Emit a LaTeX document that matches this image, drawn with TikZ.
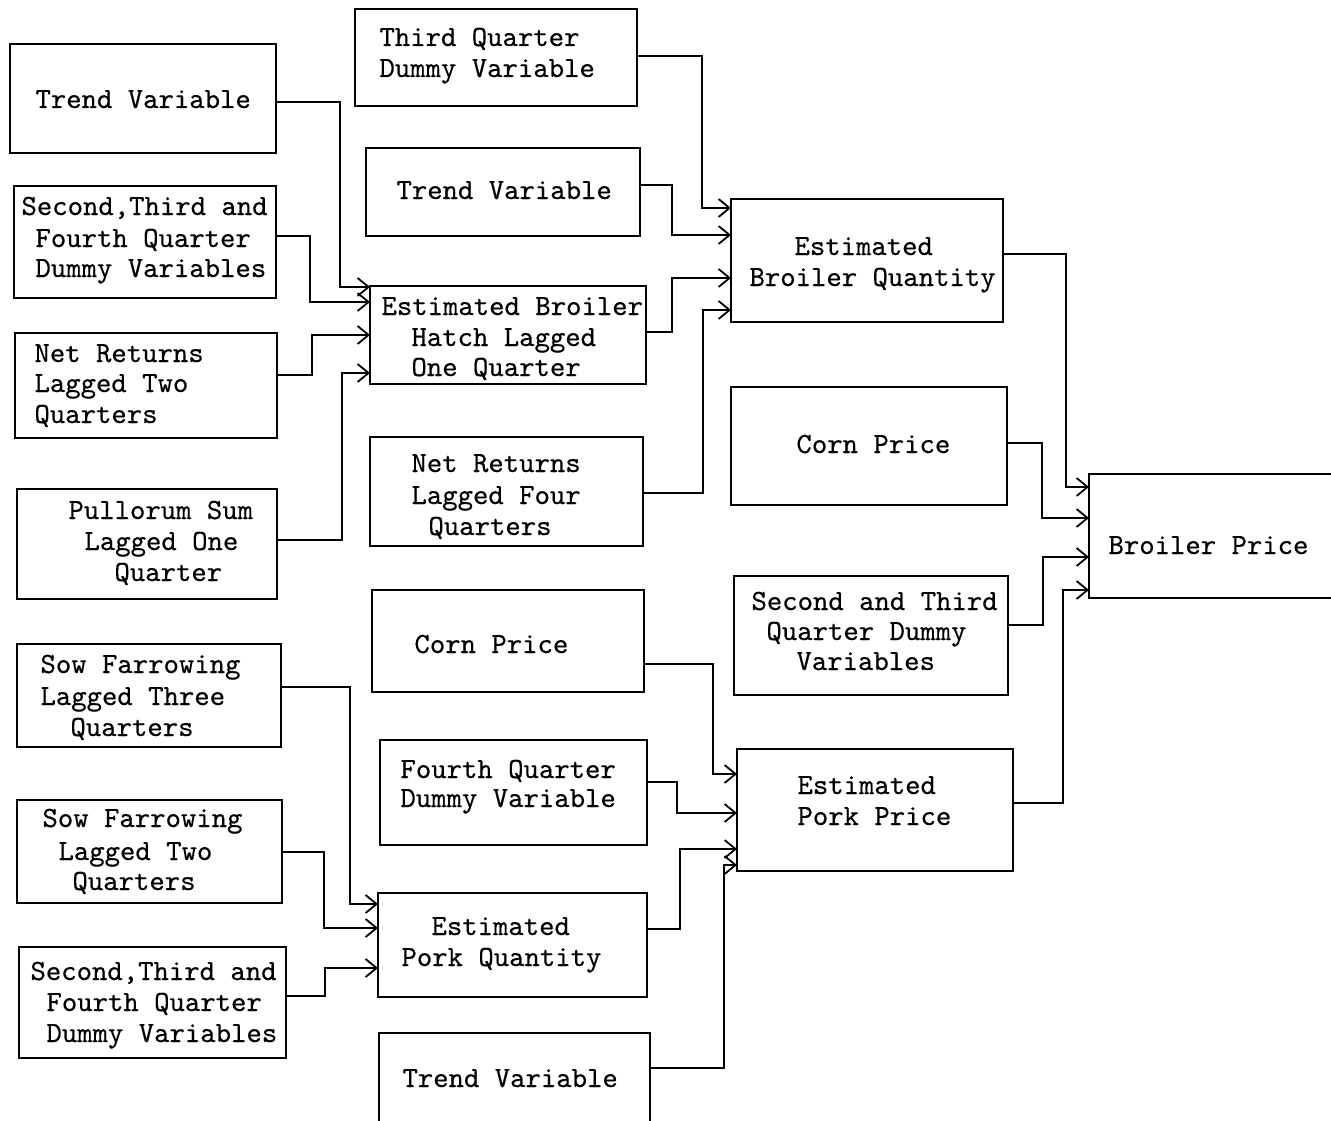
\documentclass[tikz,border=0pt]{standalone}
\usepackage{fontspec}
\newfontfamily\twfont{lmmono10-regular.otf}[FakeBold=0.4]
\usetikzlibrary{arrows.meta}
\begin{document}
\begin{tikzpicture}[x=1pt,y=-1pt,
  box/.style={draw=black, line width=1.6pt, inner sep=0pt, outer sep=0pt, anchor=north west},
  txt/.style={inner sep=0pt, outer sep=0pt, anchor=base west, xshift=-1.5pt,
              font=\fontsize{29.3}{30}\selectfont\twfont},
  conn/.style={draw=black, line width=1.6pt,
               -{Straight Barb[length=11pt,width=18pt,line width=1.8pt]}}]
\useasboundingbox (0,0) rectangle (1331,1121);
\newcommand\bx[5]{\node[box, minimum width={(#4-#2)*1pt}, minimum height={(#5-#3)*1pt}] (#1) at (#2,#3) {};}
\newcommand\tl[4]{\node[txt] (#1) at (#2,#3) {#4};}
% boxes
\bx{b1}{10}{44}{276}{153}
\bx{b2}{14}{186}{276}{298}
\bx{b3}{15}{333}{277}{438}
\bx{b4}{17}{489}{277}{599}
\bx{b5}{17}{644}{281}{747}
\bx{b6}{17}{800}{282}{903}
\bx{b7}{19}{947}{286}{1058}
\bx{b8}{355}{9}{637}{106}
\bx{b9}{366}{148}{640}{236}
\bx{b10}{370}{286}{646}{384}
\bx{b11}{370}{437}{643}{546}
\bx{b12}{372}{590}{644}{692}
\bx{b13}{380}{740}{647}{845}
\bx{b14}{378}{893}{647}{997}
\bx{b15}{379}{1033}{650}{1140}
\bx{b16}{731}{199}{1003}{322}
\bx{b17}{731}{387}{1007}{505}
\bx{b18}{734}{576}{1008}{695}
\bx{b19}{737}{749}{1013}{871}
\bx{b20}{1089}{474}{1350}{598}
% texts
\tl{t1a}{37}{108}{Trend Variable}
\tl{t2a}{23}{215}{Second,Third and}
\tl{t2b}{37}{247}{Fourth Quarter}
\tl{t2c}{37}{277}{Dummy Variables}
\tl{t3a}{36}{362}{Net Returns}
\tl{t3b}{36}{392}{Lagged Two}
\tl{t3c}{36}{423}{Quarters}
\tl{t4a}{70}{519}{Pullorum Sum}
\tl{t4b}{86}{550}{Lagged One}
\tl{t4c}{116}{581}{Quarter}
\tl{t5a}{42}{673}{Sow Farrowing}
\tl{t5b}{42}{705}{Lagged Three}
\tl{t5c}{72}{736}{Quarters}
\tl{t6a}{44}{827}{Sow Farrowing}
\tl{t6b}{60}{860}{Lagged Two}
\tl{t6c}{74}{890}{Quarters}
\tl{t7a}{32}{980}{Second,Third and}
\tl{t7b}{48}{1011}{Fourth Quarter}
\tl{t7c}{48}{1042}{Dummy Variables}
\tl{t8a}{381}{46}{Third Quarter}
\tl{t8b}{381}{77}{Dummy Variable}
\tl{t9a}{398}{199}{Trend Variable}
\tl{t10a}{383}{315}{Estimated Broiler}
\tl{t10b}{413}{346}{Hatch Lagged}
\tl{t10c}{413}{376}{One Quarter}
\tl{t11a}{413}{472}{Net Returns}
\tl{t11b}{413}{504}{Lagged Four}
\tl{t11c}{430}{535}{Quarters}
\tl{t12a}{416}{653}{Corn Price}
\tl{t13a}{402}{778}{Fourth Quarter}
\tl{t13b}{402}{807}{Dummy Variable}
\tl{t14a}{433}{935}{Estimated}
\tl{t14b}{403}{966}{Pork Quantity}
\tl{t15a}{404}{1087}{Trend Variable}
\tl{t16a}{796}{255}{Estimated}
\tl{t16b}{751}{286}{Broiler Quantity}
\tl{t17a}{798}{453}{Corn Price}
\tl{t18a}{753}{610}{Second and Third}
\tl{t18b}{768}{640}{Quarter Dummy}
\tl{t18c}{798}{670}{Variables}
\tl{t19a}{799}{794}{Estimated}
\tl{t19b}{799}{825}{Pork Price}
\tl{t20a}{1110}{554}{Broiler Price}
% connectors into b10
\draw[conn] (b1.east |- 0,102) -| (340,287) -- (b10.west |- 0,287);
\draw[conn] (b2.east |- 0,236) -| (310,302) -- (b10.west |- 0,302);
\draw[conn] (b3.east |- 0,375) -| (312,335) -- (b10.west |- 0,335);
\draw[conn] (b4.east |- 0,540) -| (342,373) -- (b10.west |- 0,373);
% into b16
\draw[conn] (b8.east |- 0,56) -| (702,208) -- (b16.west |- 0,208);
\draw[conn] (b9.east |- 0,185) -| (672,235) -- (b16.west |- 0,235);
\draw[conn] (b10.east |- 0,332) -| (672,278) -- (b16.west |- 0,278);
\draw[conn] (b11.east |- 0,493) -| (703,310) -- (b16.west |- 0,310);
% into b14
\draw[conn] (b5.east |- 0,687) -| (350,904) -- (b14.west |- 0,904);
\draw[conn] (b6.east |- 0,852) -| (324,928) -- (b14.west |- 0,928);
\draw[conn] (b7.east |- 0,996) -| (325,968) -- (b14.west |- 0,968);
% into b19
\draw[conn] (b12.east |- 0,664) -| (713,774) -- (b19.west |- 0,774);
\draw[conn] (b13.east |- 0,782) -| (677,813) -- (b19.west |- 0,813);
\draw[conn] (b14.east |- 0,929) -| (680,849) -- (b19.west |- 0,849);
\draw[conn] (b15.east |- 0,1068) -| (724,865) -- (b19.west |- 0,865);
% into b20
\draw[conn] (b16.east |- 0,254) -| (1066,487) -- (b20.west |- 0,487);
\draw[conn] (b17.east |- 0,443) -| (1042,518) -- (b20.west |- 0,518);
\draw[conn] (b18.east |- 0,625) -| (1043,557) -- (b20.west |- 0,557);
\draw[conn] (b19.east |- 0,803) -| (1063,590) -- (b20.west |- 0,590);
\end{tikzpicture}
\end{document}
